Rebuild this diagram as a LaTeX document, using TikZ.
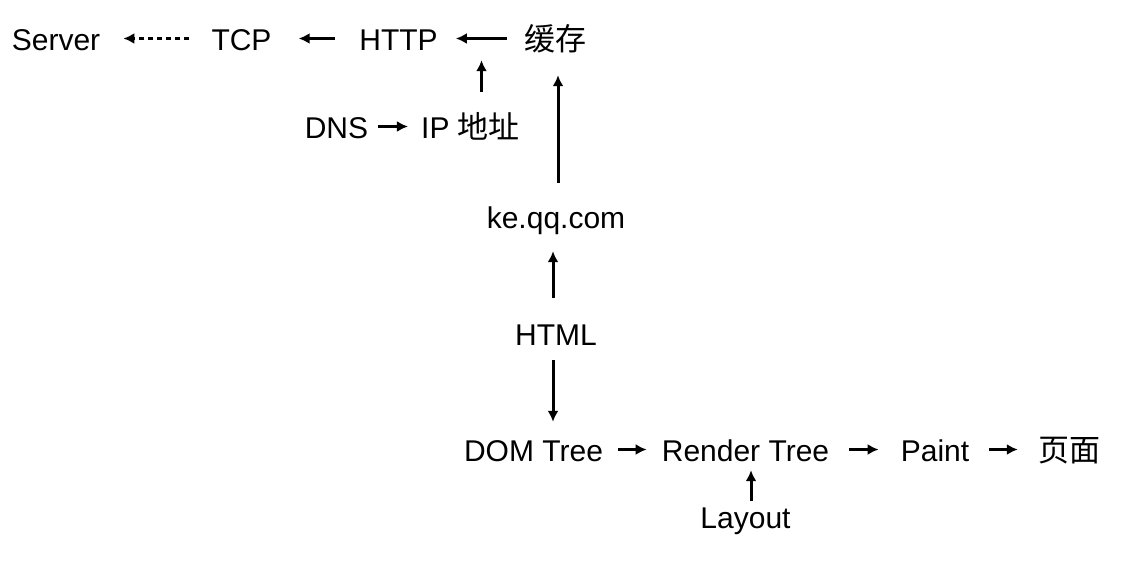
\documentclass[tikz,border=0pt]{standalone}
\usepackage{fontspec}
\setmainfont{Liberation Sans}
\newfontfamily\cjkf{Noto Sans CJK SC}
\usetikzlibrary{arrows.meta}
\newcommand\zh[1]{{\cjkf\fontsize{31}{36}\selectfont #1}}
\begin{document}
\begin{tikzpicture}[x=1pt,y=-1pt,
  lbl/.style={font=\fontsize{30}{36}\selectfont, inner xsep=0pt, inner ysep=0pt,
              text height=23pt, text depth=0pt, anchor=base},
  arr/.style={line width=3pt, -{Latex[length=11pt,width=11pt]}},
  dsh/.style={arr, dash pattern=on 5pt off 4pt}]
\useasboundingbox (0,0) rectangle (1121,570);
\fill[white] (0,0) rectangle (1121,570);
% nodes
\node[lbl] (server) at (56,50) {Server};
\node[lbl] (tcp) at (241.5,50) {TCP};
\node[lbl] (http) at (398.5,50) {HTTP};
\node[lbl] (cache) at (555,50) {\zh{缓存}};
\node[lbl] (dns) at (336.5,138) {DNS};
\node[lbl] (ip) at (470.5,138) {IP \zh{地址}};
\node[lbl] (ke) at (556,228) {ke.qq.com};
\node[lbl] (html) at (556,345) {HTML};
\node[lbl] (dom) at (533.5,461) {DOM Tree};
\node[lbl] (render) at (745.5,461) {Render Tree};
\node[lbl] (paint) at (935,461) {Paint};
\node[lbl] (page) at (1069,461) {\zh{页面}};
\node[lbl] (layout) at (745.5,528) {Layout};
% connectors
\draw[dsh, shorten <=22pt, shorten >=23pt] (tcp) -- (server);
\draw[arr, shorten <=24pt, shorten >=27pt] (http) -- (tcp);
\draw[arr, shorten <=17pt, shorten >=18pt] (cache) -- (http);
\draw[arr, shorten <=10pt, shorten >=13pt] (dns) -- (ip);
\draw[arr, shorten <=23pt, shorten >=10pt] ([xshift=11pt]ip.north) -- ([xshift=11pt]ip.north |- http.south);
\draw[arr, shorten <=22pt, shorten >=25pt] ([xshift=2pt]ke.north) -- ([xshift=2pt]ke.north |- cache.south);
\draw[arr, shorten <=24pt, shorten >=23pt] ([xshift=-3pt]html.north) -- ([xshift=-3pt]html.north |- ke.south);
\draw[arr, shorten <=15pt, shorten >=16pt] ([xshift=-3pt]html.south) -- ([xshift=-3pt]html.south |- dom.north);
\draw[arr, shorten <=15pt, shorten >=15pt] (dom) -- (render);
\draw[arr, shorten <=20pt, shorten >=22pt] (render) -- (paint);
\draw[arr, shorten <=20pt, shorten >=20pt] (paint) -- (page);
\draw[arr, shorten <=4pt, shorten >=9pt] ([xshift=5.5pt]layout.north) -- ([xshift=5.5pt]layout.north |- render.south);
\end{tikzpicture}
\end{document}
